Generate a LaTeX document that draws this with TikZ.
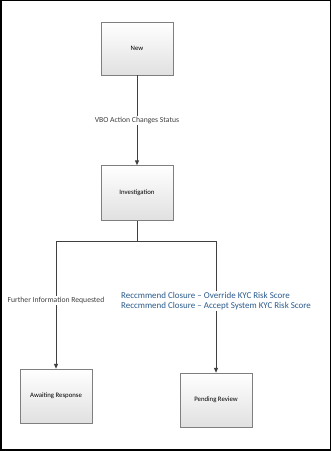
\documentclass[tikz,border=0pt]{standalone}
\usepackage{fontspec}
\setmainfont{Carlito}
\usepackage{xcolor}
\definecolor{edge}{HTML}{404040}
\definecolor{boxline}{HTML}{7F7F7F}
\definecolor{note}{HTML}{2B5B8C}
\usetikzlibrary{arrows.meta,shadows}

\begin{document}
\begin{tikzpicture}[x=1bp,y=1bp,>={Triangle[length=5bp,width=4bp]},every node/.style={font=\fontsize{6.8}{8}\selectfont}]
\useasboundingbox (0,0) rectangle (331,451);
\draw[line width=1.5bp] (0.75,0.75) rectangle (330.25,450.25);
\tikzset{statebox/.style={draw=boxline,top color=white,bottom color=black!12,rectangle,minimum width=72bp,minimum height=54bp,drop shadow={opacity=0.2,shadow xshift=1bp,shadow yshift=-1bp}}}
\tikzset{edgelabel/.style={fill=white,inner sep=1pt,font=\fontsize{7.7}{9}\selectfont}}
\node[statebox,minimum height=53bp] (New) at (137,402.5) {New};
\node[statebox,minimum height=55bp] (Inv) at (137,258) {Investigation};
\node[statebox] (Await) at (56,55) {Awaiting Response};
\node[statebox] (Pend) at (216,51) {Pending Review};
\coordinate (J) at (137,209);
\draw[->,edge,line width=1bp] (New) -- node[midway,edgelabel]{VBO Action Changes Status} (Inv);
\draw[edge,line width=1bp] (Inv) -- (J);
\draw[->,edge,line width=1bp] (J) -| node[pos=0.73,edgelabel]{Further Information Requested} (Await);
\draw[->,edge,line width=1bp] (J) -| node[pos=0.725,edgelabel,align=left,text=note,font=\fontsize{9}{10}\selectfont]{Reccmmend Closure -- Override KYC Risk Score\\Reccmmend Closure -- Accept System KYC Risk Score} (Pend);
\end{tikzpicture}
\end{document}
